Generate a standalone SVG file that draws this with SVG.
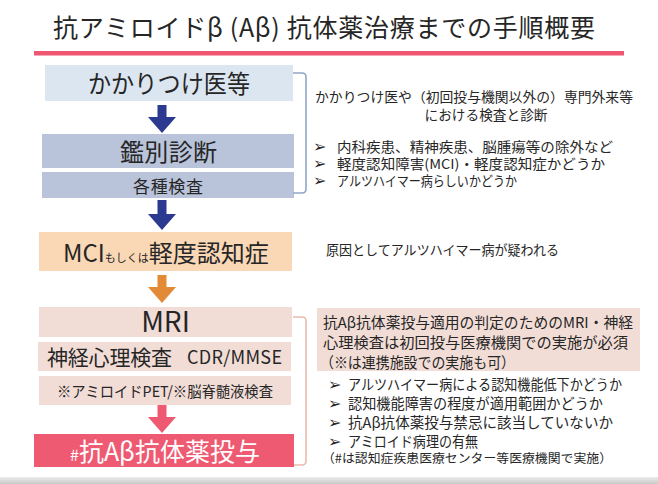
<svg xmlns="http://www.w3.org/2000/svg" width="658" height="484" viewBox="0 0 658 484">
<defs>
<linearGradient id="gbar" x1="0" y1="0" x2="0" y2="1">
<stop offset="0" stop-color="#ececec"/>
<stop offset="1" stop-color="#c9c9c9"/>
</linearGradient>
</defs>
<style>
text{font-family:"Noto Sans CJK JP","Noto Sans",sans-serif;fill:#262626}
.w{fill:#ffffff}
.bul{font-family:"DejaVu Sans",sans-serif;font-size:16px;fill:#262626}
.r{font-size:13.5px}
.rb{font-size:15px}
.rl{font-size:14.5px}
.br{fill:none;stroke-width:1.6}
</style>
<rect x="0" y="0" width="658" height="484" fill="#ffffff"/>
<g id="title">
<text x="53" y="37" font-size="25" textLength="542">抗アミロイドβ (Aβ) 抗体薬治療までの手順概要</text>
<rect x="34" y="51" width="590" height="4.5" fill="#ee5672"/>
</g>
<g id="n-kakaritsuke">
<rect x="45" y="65" width="248" height="36" fill="#dce6f1"/>
<text x="169" y="93" font-size="25" text-anchor="middle" textLength="162" lengthAdjust="spacingAndGlyphs">かかりつけ医等</text>
</g>
<g id="n-kanbetsu">
<rect x="42" y="134" width="252" height="34" fill="#b9c3d9"/>
<text x="168.5" y="161" font-size="24" text-anchor="middle" textLength="97">鑑別診断</text>
</g>
<g id="n-kakushu">
<rect x="42" y="172" width="252" height="26" fill="#b9c3d9"/>
<text x="168" y="193" font-size="17" text-anchor="middle" textLength="70">各種検査</text>
</g>
<g id="n-mci">
<rect x="39" y="232" width="253" height="39" fill="#fad8b6"/>
<text x="63" y="262" font-size="24">MCI<tspan font-size="11">もしくは</tspan>軽度認知症</text>
</g>
<g id="n-mri">
<rect x="39" y="307" width="253" height="30" fill="#f2ddd6"/>
<text x="165.5" y="332" font-size="28" text-anchor="middle">MRI</text>
</g>
<g id="n-shinkei">
<rect x="38" y="342" width="253" height="29" fill="#f2ddd6"/>
<text x="47" y="365" font-size="21" textLength="125">神経心理検査</text>
<text x="187" y="364" font-size="18" textLength="95">CDR/MMSE</text>
</g>
<g id="n-amyloid">
<rect x="39" y="376" width="252" height="29" fill="#f2ddd6"/>
<text x="57" y="397" font-size="15" textLength="216" lengthAdjust="spacingAndGlyphs">※アミロイドPET/※脳脊髄液検査</text>
</g>
<g id="n-toyo">
<rect x="34" y="434" width="260" height="33" fill="#ef5a73"/>
<text x="70" y="461" font-size="25" class="w" textLength="190"><tspan font-size="16">#</tspan>抗Aβ抗体薬投与</text>
</g>
<g id="connectors">
<polygon points="157.5,105 166.5,105 166.5,117 176,117 162,133 148,117 157.5,117" fill="#2b3990"/>
<polygon points="157.5,200 166.5,200 166.5,214 176,214 162,230 148,214 157.5,214" fill="#2b3990"/>
<polygon points="157.5,275 166.5,275 166.5,287 176,287 162,303 148,287 157.5,287" fill="#e38a36"/>
<polygon points="157.5,405 166.5,405 166.5,417 176,417 162,433 148,417 157.5,417" fill="#ef5a73"/>
<path class="br" stroke="#91a6c7" d="M293,73 H302 Q306,73 306,77 V189 Q306,193 302,193 H293"/>
<path class="br" stroke="#e7bcb0" d="M293,317 H302 Q306,317 306,321 V461 Q306,465 302,465 H294"/>
</g>
<g id="note-1">
<text x="315" y="102" class="r" textLength="318" lengthAdjust="spacingAndGlyphs">かかりつけ医や（初回投与機関以外の）専門外来等</text>
<text x="486" y="120" class="r" text-anchor="middle" textLength="123" lengthAdjust="spacingAndGlyphs">における検査と診断</text>
<text x="313" y="152" class="bul">➢</text>
<text x="337" y="152" class="r" textLength="276" lengthAdjust="spacingAndGlyphs">内科疾患、精神疾患、脳腫瘍等の除外など</text>
<text x="313" y="169" class="bul">➢</text>
<text x="337" y="169" class="r" textLength="268" lengthAdjust="spacingAndGlyphs">軽度認知障害(MCI)・軽度認知症かどうか</text>
<text x="313" y="186" class="bul">➢</text>
<text x="337" y="186" class="r" textLength="180" lengthAdjust="spacingAndGlyphs">アルツハイマー病らしいかどうか</text>
</g>
<g id="note-2">
<text x="326" y="255" class="r" textLength="233" lengthAdjust="spacingAndGlyphs">原因としてアルツハイマー病が疑われる</text>
</g>
<g id="note-3">
<rect x="317" y="308" width="323" height="63" fill="#f2ddd6"/>
<text x="323" y="328" class="rb" textLength="310" lengthAdjust="spacingAndGlyphs">抗Aβ抗体薬投与適用の判定のためのMRI・神経</text>
<text x="323" y="348" class="rb" textLength="305" lengthAdjust="spacingAndGlyphs">心理検査は初回投与医療機関での実施が必須</text>
<text x="320" y="368" class="rb" textLength="195" lengthAdjust="spacingAndGlyphs">（※は連携施設での実施も可）</text>
</g>
<g id="note-4">
<text x="328" y="390" class="bul">➢</text>
<text x="348" y="390" class="rl" textLength="274" lengthAdjust="spacingAndGlyphs">アルツハイマー病による認知機能低下かどうか</text>
<text x="328" y="409" class="bul">➢</text>
<text x="348" y="409" class="rl" textLength="255" lengthAdjust="spacingAndGlyphs">認知機能障害の程度が適用範囲かどうか</text>
<text x="328" y="428" class="bul">➢</text>
<text x="348" y="428" class="rl" textLength="265" lengthAdjust="spacingAndGlyphs">抗Aβ抗体薬投与禁忌に該当していないか</text>
<text x="328" y="447" class="bul">➢</text>
<text x="348" y="447" class="rl" textLength="130" lengthAdjust="spacingAndGlyphs">アミロイド病理の有無</text>
<text x="322" y="463" font-size="12.5" textLength="290" lengthAdjust="spacingAndGlyphs">（#は認知症疾患医療センター等医療機関で実施）</text>
</g>
<rect x="0" y="477" width="658" height="7" fill="url(#gbar)"/>
</svg>
